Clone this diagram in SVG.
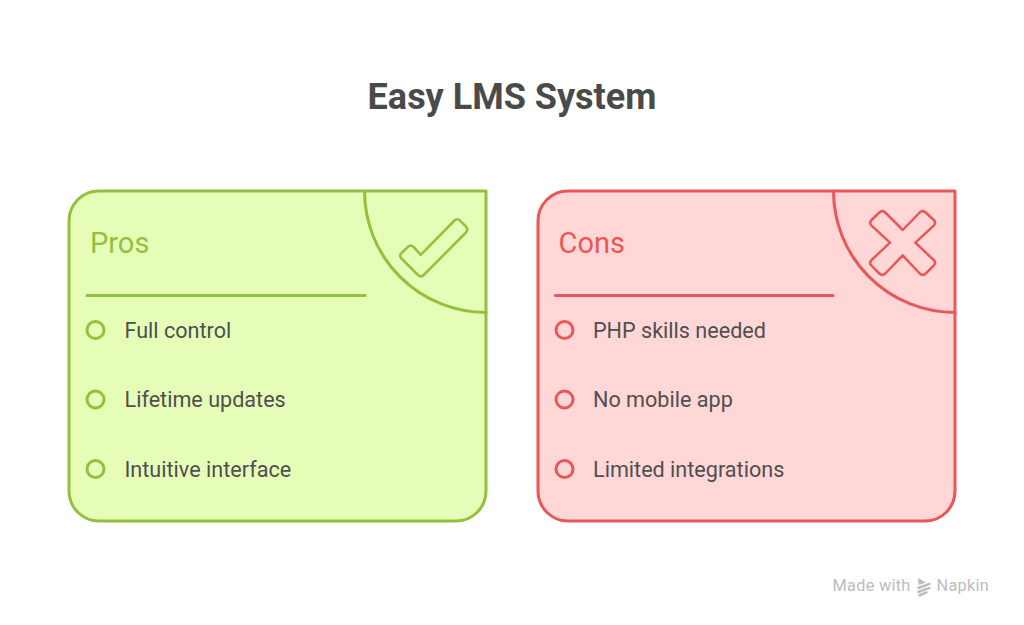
<svg xmlns="http://www.w3.org/2000/svg" width="1024" height="625" viewBox="0 0 1024 625">
<style>
text{font-family:Roboto,"Liberation Sans",sans-serif}
.item{font-size:21.600px;fill:#4f4f4f}
.head{font-size:29px}
.wm{font-size:16.300px;fill:#bdbdbd;letter-spacing:.3px}
.g{stroke:#92c13c}.r{stroke:#e95757}
.ln{fill:none;stroke-width:3;stroke-linejoin:round;stroke-linecap:round}
.ic{fill:none;stroke-width:2.5;stroke-linejoin:round}
</style>
<rect width="1024" height="625" fill="#fff"/>
<text id="title" x="512" y="108.500" text-anchor="middle" font-size="36" font-weight="700" fill="#4a4a4a">Easy LMS System</text>
<g id="pros">
<path class="g" fill="#e6fdb8" stroke-width="3" stroke-linejoin="round" d="M99 191H486V491A30 30 0 0 1 456 521H99A30 30 0 0 1 69 491V221A30 30 0 0 1 99 191Z"/>
<path class="g ln" d="M364.500 191A121.500 121.500 0 0 0 486 312.500"/>
<path class="g ic" d="M454.500 220.500Q457.300 218 460 220.500L466 226.700Q468.500 229.500 466 232.500L423.700 275Q420.800 277.800 418 275L401.500 258.500Q398.800 255.700 401.500 253L408 246.800Q410.800 244.200 413.500 246.800L420.700 254.800Z"/>
<path class="g ln" d="M87 295.500H365"/>
<text class="head" x="90" y="253" fill="#92c13c">Pros</text>
<circle class="g" cx="95.500" cy="330" r="8.500" fill="none" stroke-width="3"/>
<circle class="g" cx="95.500" cy="399.500" r="8.500" fill="none" stroke-width="3"/>
<circle class="g" cx="95.500" cy="469" r="8.500" fill="none" stroke-width="3"/>
<text class="item" x="124.500" y="337.500">Full control</text>
<text class="item" x="124.500" y="407">Lifetime updates</text>
<text class="item" x="124.500" y="476.500">Intuitive interface</text>
</g>
<g id="cons">
<path class="r" fill="#ffd7d7" stroke-width="3" stroke-linejoin="round" d="M568 191H955V491A30 30 0 0 1 925 521H568A30 30 0 0 1 538 491V221A30 30 0 0 1 568 191Z"/>
<path class="r ln" d="M833.500 191A121.500 121.500 0 0 0 955 312.500"/>
<path class="r ic" d="M902.700 230L919.700 212.500Q922.700 209.700 925.700 212.500L933.700 220Q936.500 222.800 933.700 225.700L915.300 242.700L933.700 260Q936.500 262.800 933.700 265.700L925.700 273.500Q922.700 276.300 919.700 273.500L902.700 255.300L885.300 273.500Q882.300 276.300 879.300 273.500L871.500 265.700Q868.700 262.800 871.500 260L890 242.700L871.500 225.700Q868.700 222.800 871.500 220L879.300 212.500Q882.300 209.700 885.300 212.500Z"/>
<path class="r ln" d="M555.500 295.500H833"/>
<text class="head" x="558.500" y="253" fill="#e95757">Cons</text>
<circle class="r" cx="564.500" cy="330" r="8.500" fill="none" stroke-width="3"/>
<circle class="r" cx="564.500" cy="399.500" r="8.500" fill="none" stroke-width="3"/>
<circle class="r" cx="564.500" cy="469" r="8.500" fill="none" stroke-width="3"/>
<text class="item" x="593" y="337.500">PHP skills needed</text>
<text class="item" x="593" y="407">No mobile app</text>
<text class="item" x="593" y="476.500">Limited integrations</text>
</g>
<g id="connectors"/>
<g id="watermark">
<text class="wm" x="832.500" y="591">Made with</text>
<path fill="#bdbdbd" d="M918 578L926 582.500L918.500 585ZM917 587L930 582.500L931 584.500L918 589.500ZM917 591L930 586.500L931 588.500L918 593.500ZM918 594.500L927 591L928 593L919 597Z"/>
<text class="wm" x="936.500" y="591">Napkin</text>
</g>
</svg>
